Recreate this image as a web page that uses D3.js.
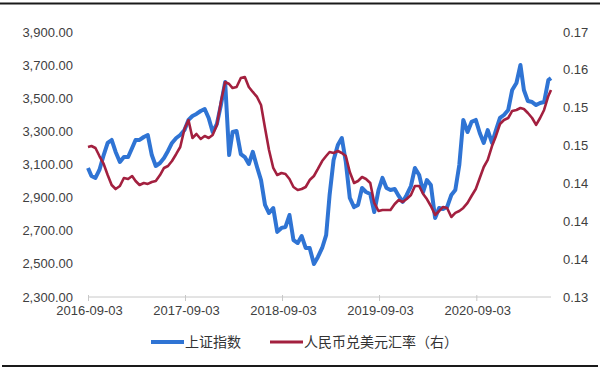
<!DOCTYPE html>
<html><head><meta charset="utf-8">
<script src="https://cdn.jsdelivr.net/npm/d3@7"></script>
<style>body{margin:0;background:#fff}svg{display:block}</style>
</head><body>
<svg id="c" width="600" height="370"></svg>
<script>
const dates = ["2016-09-03","2016-09-16","2016-10-01","2016-10-16","2016-11-01","2016-11-16","2016-12-01","2016-12-16",
"2017-01-01","2017-01-16","2017-02-01","2017-02-16","2017-03-01","2017-03-16","2017-04-01","2017-04-16","2017-05-01","2017-05-16","2017-06-01","2017-06-16","2017-07-01","2017-07-16","2017-08-01","2017-08-16","2017-09-01","2017-09-16","2017-10-01","2017-10-16","2017-11-01","2017-11-16","2017-12-01","2017-12-16",
"2018-01-01","2018-01-16","2018-02-01","2018-02-16","2018-03-01","2018-03-16","2018-04-01","2018-04-16","2018-05-01","2018-05-16","2018-06-01","2018-06-16","2018-07-01","2018-07-16","2018-08-01","2018-08-16","2018-09-01","2018-09-16","2018-10-01","2018-10-16","2018-11-01","2018-11-16","2018-12-01","2018-12-16",
"2019-01-01","2019-01-16","2019-02-01","2019-02-16","2019-03-01","2019-03-16","2019-04-01","2019-04-16","2019-05-01","2019-05-16","2019-06-01","2019-06-16","2019-07-01","2019-07-16","2019-08-01","2019-08-16","2019-09-01","2019-09-16","2019-10-01","2019-10-16","2019-11-01","2019-11-16","2019-12-01","2019-12-16",
"2020-01-01","2020-01-16","2020-02-01","2020-02-16","2020-03-01","2020-03-16","2020-04-01","2020-04-16","2020-05-01","2020-05-16","2020-06-01","2020-06-16","2020-07-01","2020-07-16","2020-08-01","2020-08-16","2020-09-01","2020-09-16","2020-10-01","2020-10-16","2020-11-01","2020-11-16","2020-12-01","2020-12-16",
"2021-01-01","2021-01-16","2021-02-01","2021-02-16","2021-03-01","2021-03-16","2021-04-01","2021-04-16","2021-05-01","2021-05-16","2021-06-01","2021-06-11"];

const shIndex = [3079,3031,3019,3067,3157,3230,3248,3176,
3115,3145,3145,3200,3248,3248,3266,3278,3157,3091,3109,3139,3182,3230,3260,3278,3308,3369,3393,3405,3423,3435,3381,3296,
3345,3459,3598,3157,3296,3302,3163,3145,3103,3176,3085,3006,2856,2807,2837,2693,2717,2723,2795,2644,2626,2668,2596,2596,
2499,2542,2596,2674,2916,3127,3218,3260,3115,2898,2843,2856,2958,2934,2922,2813,2946,3019,2958,2946,2952,2910,2874,2916,
2970,3079,3037,2934,3006,2976,2777,2837,2831,2843,2916,2946,3097,3369,3296,3357,3369,3290,3230,3308,3230,3308,3381,3399,
3429,3550,3592,3701,3550,3483,3477,3459,3471,3477,3610,3622];

const cnyUsd = [0.14981,0.14994,0.14968,0.14862,0.14757,0.14611,0.14479,0.14426,
0.14466,0.14572,0.14559,0.14598,0.14532,0.14479,0.14506,0.14493,0.14519,0.14532,0.14611,0.14704,0.14730,0.14796,0.14889,0.14981,0.15219,0.15338,0.15100,0.15153,0.15087,0.15127,0.15100,0.15140,
0.15272,0.15576,0.15840,0.15813,0.15760,0.15774,0.15893,0.15906,0.15774,0.15708,0.15642,0.15536,0.15232,0.14942,0.14704,0.14611,0.14638,0.14625,0.14559,0.14453,0.14413,0.14426,0.14453,0.14545,
0.14598,0.14691,0.14796,0.14862,0.14915,0.14902,0.14928,0.14902,0.14862,0.14651,0.14506,0.14532,0.14585,0.14559,0.14506,0.14242,0.14136,0.14149,0.14149,0.14149,0.14228,0.14281,0.14255,0.14294,
0.14347,0.14466,0.14466,0.14360,0.14294,0.14202,0.14083,0.14136,0.14189,0.14176,0.14057,0.14110,0.14136,0.14176,0.14242,0.14334,0.14426,0.14572,0.14717,0.14810,0.14994,0.15127,0.15285,0.15338,
0.15364,0.15457,0.15470,0.15496,0.15483,0.15430,0.15364,0.15272,0.15364,0.15470,0.15655,0.15734];

const xTickLabels = ["2016-09-03","2017-09-03","2018-09-03","2019-09-03","2020-09-03"];
const leftTicks = [2300,2500,2700,2900,3100,3300,3500,3700,3900];
const rightTicks = [0.13,0.135,0.14,0.145,0.15,0.155,0.16,0.165];
const seriesNames = ["上证指数","人民币兑美元汇率（右）"];
const seriesColors = ["#2f74d4","#a3203f"];

const parse = d3.timeParse("%Y-%m-%d");
const svg = d3.select("#c");
const x = d3.scaleTime().domain([parse(dates[0]), parse(dates[dates.length-1])]).range([88, 551]);
const yL = d3.scaleLinear().domain([2300,3900]).range([297,32]);
const yR = d3.scaleLinear().domain([0.13,0.165]).range([297,32]);

const font = "Arial, 'Liberation Sans', sans-serif";

// borders
svg.append("line").attr("x1",0).attr("x2",600).attr("y1",3.5).attr("y2",3.5).attr("stroke","#1a1a1a").attr("stroke-width",2);
svg.append("line").attr("x1",2).attr("x2",598).attr("y1",366).attr("y2",366).attr("stroke","#1a1a1a").attr("stroke-width",2);

// left axis labels
const fmtL = d3.format(",.2f");
svg.append("g").selectAll("text").data(leftTicks).join("text")
  .attr("x",73).attr("y",d=>yL(d)).attr("dy","0.35em").attr("text-anchor","end")
  .attr("font-family",font).attr("font-size",13).attr("fill","#404040").text(d=>fmtL(d));

// right axis labels
const fmtR = d3.format(".2f");
svg.append("g").selectAll("text").data(rightTicks).join("text")
  .attr("x",563).attr("y",d=>yR(d)).attr("dy","0.35em").attr("text-anchor","start")
  .attr("font-family",font).attr("font-size",13).attr("fill","#404040").text(d=>fmtR(d));

// x axis
const xAxis = d3.axisBottom(x).tickValues(xTickLabels.map(parse)).tickSize(4).tickFormat(d3.timeFormat("%Y-%m-%d"));
const gx = svg.append("g").attr("transform","translate(0,297)").call(xAxis);
gx.select(".domain").attr("stroke","#c8c8c8").attr("d","M88,0H551");
gx.selectAll(".tick line").attr("stroke","#c8c8c8").attr("y1",-2);
gx.selectAll(".tick text").attr("font-family",font).attr("font-size",13).attr("fill","#404040").attr("y",9).attr("dx",1);

// lines
const lineL = d3.line().x((d,i)=>x(parse(dates[i]))).y(d=>yL(d)).curve(d3.curveLinear);
const lineR = d3.line().x((d,i)=>x(parse(dates[i]))).y(d=>yR(d)).curve(d3.curveLinear);
svg.append("path").datum(shIndex).attr("d",lineL).attr("fill","none")
  .attr("stroke",seriesColors[0]).attr("stroke-width",4).attr("stroke-linejoin","round");
svg.append("path").datum(cnyUsd).attr("d",lineR).attr("fill","none")
  .attr("stroke",seriesColors[1]).attr("stroke-width",2.6).attr("stroke-linejoin","round");

// legend
const lg = svg.append("g");
const legendX = [151, 270];
seriesNames.forEach((n,i)=>{
  lg.append("line").attr("x1",legendX[i]).attr("x2",legendX[i]+33).attr("y1",342).attr("y2",342)
    .attr("stroke",seriesColors[i]).attr("stroke-width",i===0?4:3);
  lg.append("text").attr("x",legendX[i]+34).attr("y",342).attr("dy","0.35em")
    .attr("font-family","'Noto Sans CJK SC', sans-serif").attr("font-size",14).attr("fill","#333").text(n);
});
</script>
</body></html>
